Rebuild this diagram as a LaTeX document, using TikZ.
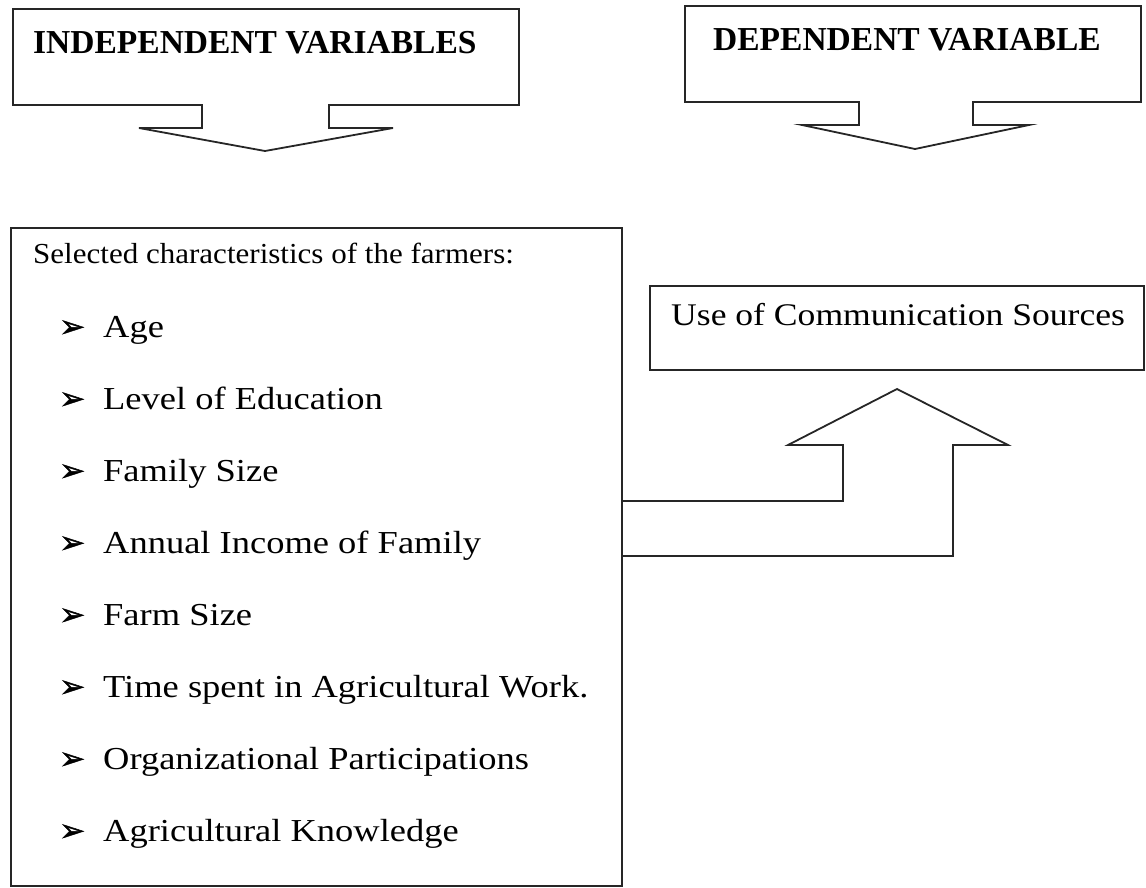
\documentclass[tikz,border=0pt]{standalone}
\usepackage{fontspec}
\setmainfont{Liberation Serif}
\newfontfamily\introfont[FakeStretch=1.07]{Liberation Serif}
\newfontfamily\itemfont[FakeStretch=1.14]{Liberation Serif}
\newfontfamily\outcomefont[FakeStretch=1.13]{Liberation Serif}
\newfontfamily\bulletfont[FakeBold=1.5]{DejaVu Sans}
\begin{document}
\begin{tikzpicture}[x=1pt,y=-1pt,
  outline/.style={draw=black!85, line width=1.8pt, line join=miter},
  heading/.style={font=\fontsize{33.5}{38}\selectfont\bfseries, anchor=base west, inner sep=0pt},
  intro/.style={font=\introfont\fontsize{29}{32}\selectfont, anchor=base west, inner sep=0pt},
  itemtext/.style={font=\itemfont\fontsize{32}{36}\selectfont, anchor=base west, inner sep=0pt},
  outcome/.style={font=\outcomefont\fontsize{31.5}{36}\selectfont, anchor=base west, inner sep=0pt},
  bulletmark/.style={font=\bulletfont\fontsize{31}{34}\selectfont, anchor=base west, inner sep=0pt}]
\useasboundingbox (0,0) rectangle (1146,887);

% heading callouts
\draw[outline] (13,9) -- (519,9) -- (519,105) -- (329,105) -- (329,128) -- (393,128)
  -- (265,151) -- (139,128) -- (202,128) -- (202,105) -- (13,105) -- cycle;
\node[heading] (indep) at (33,53) {INDEPENDENT VARIABLES};

\draw[outline] (685,6) -- (1141,6) -- (1141,102) -- (973,102) -- (973,125) -- (1029,125)
  -- (915,149) -- (802,125) -- (859,125) -- (859,102) -- (685,102) -- cycle;
\node[heading] (dep) at (713,50) {DEPENDENT VARIABLE};

% characteristics box
\node[outline, draw, anchor=north west, minimum width=611pt, minimum height=658pt, inner sep=0pt]
  (traits) at (10,227) {};
\node[intro] (sel) at (33,263) {Selected characteristics of the farmers:};

\foreach \n/\y/\t in {a/337/Age, b/409/Level of Education, c/481/Family Size,
    d/553/Annual Income of Family, e/625/Farm Size, f/697/Time spent in Agricultural Work.,
    g/769/Organizational Participations, h/841/Agricultural Knowledge} {
  \node[bulletmark] (m\n) at (59,\y) {➢};
  \node[itemtext] (t\n) at (103,\y) {\t};
}

% outcome box
\node[outline, draw, anchor=north west, minimum width=494pt, minimum height=84pt, inner sep=0pt]
  (use) at (649,285) {};
\node[outcome] (uselabel) at (671,325) {Use of Communication Sources};

% block arrow joining the two boxes
\coordinate (tip) at (897,389);
\draw[outline] (traits.east |- 0,501) -- (843,501) -- (843,445) -- (788,445) -- (tip)
  -- (1008,445) -- (953,445) -- (953,556) -- (traits.east |- 0,556);
\end{tikzpicture}
\end{document}
